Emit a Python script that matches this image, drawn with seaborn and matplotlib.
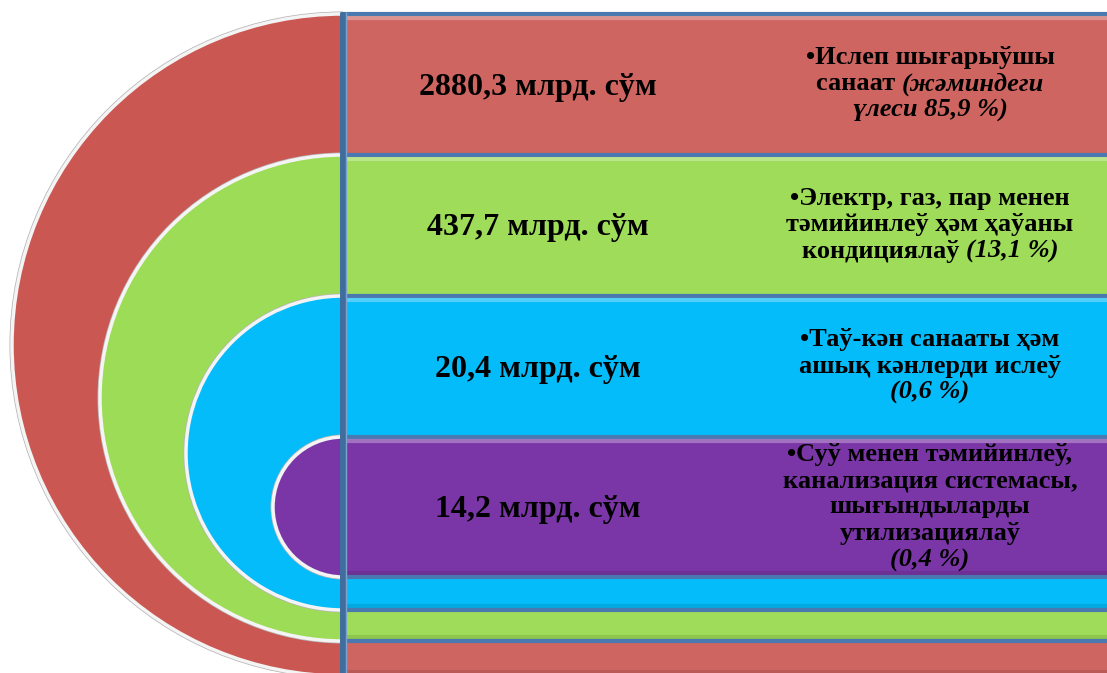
import numpy as np
import pandas as pd
import matplotlib
matplotlib.use("Agg")
import matplotlib.pyplot as plt
from matplotlib.patches import Wedge
import seaborn as sns

# --- data -----------------------------------------------------------------
amounts = ["2880,3 млрд. сўм", "437,7 млрд. сўм", "20,4 млрд. сўм", "14,2 млрд. сўм"]
shares = [85.9, 13.1, 0.6, 0.4]

# each label line is a list of (text, italic) pieces
labels = [
    [[("•Ислеп шығарыўшы", False)],
     [("санаат ", False), ("(жәминдеги", True)],
     [("үлеси 85,9 %)", True)]],
    [[("•Электр, газ, пар менен", False)],
     [("тәмийинлеў ҳәм ҳаўаны", False)],
     [("кондициялаў ", False), ("(13,1 %)", True)]],
    [[("•Таў-кән санааты ҳәм", False)],
     [("ашық кәнлерди ислеў", False)],
     [("(0,6 %)", True)]],
    [[("•Суў менен тәмийинлеў,", False)],
     [("канализация системасы,", False)],
     [("шығындыларды", False)],
     [("утилизациялаў", False)],
     [("(0,4 %)", True)]],
]

arc_colors = ["#CB5753", "#9CDC56", "#05BCFA", "#7A36A7"]
bar_colors = ["#CF6560", "#9EDC59", "#05BCFA", "#7A36A7"]

df = pd.DataFrame({"amount": amounts, "share": shares,
                   "arc": arc_colors, "bar": bar_colors})

# --- layout ---------------------------------------------------------------
W, H = 1107, 673
cx = 343
top0, step = 14, 141
radii = [331, 243, 157, 70]
val_x = 538
lab_x = 930
line_h = 26.5

sns.set_theme(style="white")
serif = ["Liberation Serif", "DejaVu Serif"]
plt.rcParams["font.family"] = serif
plt.rcParams["text.color"] = "black"

fig = plt.figure(figsize=(W / 100, H / 100), dpi=100)
ax = fig.add_axes([0, 0, 1, 1])
ax.set_xlim(0, W)
ax.set_ylim(H, 0)
ax.set_axis_off()

for i, row in df.iterrows():
    top = top0 + step * i
    r = radii[i]
    cy = top + r
    # soft grey rim + white bevel round the half disc
    ax.add_patch(Wedge((cx, cy), r + 2.5, 90, 270, facecolor="#B5B5B5",
                       edgecolor="none", zorder=2 + 3 * i))
    ax.add_patch(Wedge((cx, cy), r, 90, 270, facecolor=row["arc"],
                       edgecolor="#F4F4F4", linewidth=2.5, zorder=2 + 3 * i))
    # bar to the right
    ax.barh(top, W - cx + 10, left=cx, height=2 * r, align="edge",
            color=row["bar"], edgecolor="#4A78B0", linewidth=3,
            zorder=3 + 3 * i)
    # bevel highlight / shadow on the bar
    ax.plot([cx + 4, W], [top + 4, top + 4], color="white", alpha=0.3,
            linewidth=3, zorder=4 + 3 * i, solid_capstyle="butt")
    ax.plot([cx + 4, W], [top + 2 * r - 4, top + 2 * r - 4], color="black",
            alpha=0.1, linewidth=3, zorder=4 + 3 * i, solid_capstyle="butt")

# vertical divider
ax.plot([cx, cx], [top0 - 2, H], color="#3F6E9E", linewidth=5, zorder=30,
        solid_capstyle="butt")
ax.plot([cx + 3, cx + 3], [top0 - 2, H], color="#7FA3CC", linewidth=1,
        zorder=31, solid_capstyle="butt")

renderer = fig.canvas.get_renderer()


def put_line(pieces, xc, y, size):
    arts = []
    for txt, it in pieces:
        t = ax.text(0, y, txt, fontsize=size, fontweight="bold",
                    style="italic" if it else "normal", family=serif,
                    ha="left", va="baseline", color="black", zorder=40)
        arts.append(t)
    widths = [t.get_window_extent(renderer).width for t in arts]
    x = xc - sum(widths) / 2
    for t, w in zip(arts, widths):
        t.set_x(x)
        x += w


for i, row in df.iterrows():
    mid = top0 + step * i + step / 2 - 1
    ax.text(val_x, mid, row["amount"], fontsize=23, fontweight="bold",
            family=serif, ha="center", va="center_baseline", color="black",
            zorder=40)
    lines = labels[i]
    n = len(lines)
    for j, pieces in enumerate(lines):
        yc = mid + (j - (n - 1) / 2) * line_h
        put_line(pieces, lab_x, yc + 7, 19)

fig.savefig("out.png", dpi=100)
